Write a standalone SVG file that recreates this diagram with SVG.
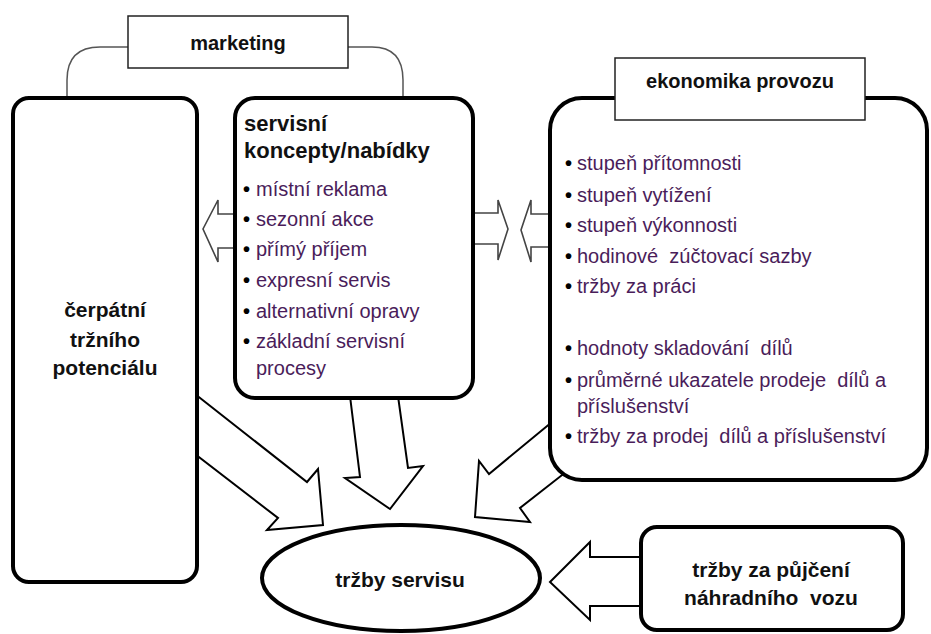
<svg xmlns="http://www.w3.org/2000/svg" width="931" height="634" viewBox="0 0 931 634">
  <style>
    .thick { fill: #fff; stroke: #000; stroke-width: 4; }
    .thin { fill: #fff; stroke: #222; stroke-width: 1.5; }
    .link { fill: none; stroke: #555; stroke-width: 1.5; }
    .blk { fill: #fff; stroke: #000; stroke-width: 2; stroke-linejoin: miter; }
    .blk-light { fill: #fff; stroke: #444; stroke-width: 1.6; stroke-linejoin: miter; }
    .title { font-family: "Liberation Sans", Arial, sans-serif; font-weight: bold; fill: #111; white-space: pre; }
    .c { text-anchor: middle; }
    .item { font-family: "Liberation Sans", Arial, sans-serif; font-size: 20px; fill: #4a1d5a; white-space: pre; }
    .dot { fill: #000; font-weight: bold; }
  </style>

  <!-- connectors: marketing brackets and block arrows -->
  <g id="connectors">
    <path class="link" d="M128,47 H100 Q67,47 67,80 V97"/>
    <path class="link" d="M348,47 H372 Q403,47 403,80 V97"/>

    <!-- services -> market potential -->
    <polygon class="blk-light" points="236,214 218,214 218,200 203,229 218,262 218,248 236,248"/>
    <!-- services -> operations -->
    <polygon class="blk-light" points="470,213 498,213 498,200 508,229 498,260 498,244 470,244"/>
    <!-- operations -> services -->
    <polygon class="blk-light" points="552,214 531,214 531,200 521,230 531,262 531,247 552,247"/>

    <!-- towards service revenue -->
    <polygon class="blk" points="350,396 398,396 408,468 423,466 390,509 345,478 360,477"/>
    <polygon class="blk" points="195,394 307,482 318,469 323,525 267,530 278,518 195,454"/>
    <polygon class="blk" points="552,422 489,474 479,461 475,517 530,522 520,508 566,472"/>
    <polygon class="blk" points="643,557 590,557 590,542 550,582 590,620 590,606 643,606"/>
  </g>

  <g id="cerpani">
    <rect class="thick" x="13" y="98" width="184" height="484" rx="16"/>
    <text class="title c" font-size="21" x="105" y="317">čerpátní</text>
    <text class="title c" font-size="21" x="105" y="347">tržního</text>
    <text class="title c" font-size="21" x="105" y="375">potenciálu</text>
  </g>

  <g id="servisni-koncepty">
    <rect class="thick" x="235" y="98" width="238" height="300" rx="20"/>
    <text class="title" font-size="22" x="244" y="131">servisní</text>
    <text class="title" font-size="22" x="244" y="158">koncepty/nabídky</text>
    <text class="item" y="196"><tspan class="dot" x="243">•</tspan><tspan x="256">místní reklama</tspan></text>
    <text class="item" y="226"><tspan class="dot" x="243">•</tspan><tspan x="256">sezonní akce</tspan></text>
    <text class="item" y="256"><tspan class="dot" x="243">•</tspan><tspan x="256">přímý příjem</tspan></text>
    <text class="item" y="287"><tspan class="dot" x="243">•</tspan><tspan x="256">expresní servis</tspan></text>
    <text class="item" y="318"><tspan class="dot" x="243">•</tspan><tspan x="256">alternativní opravy</tspan></text>
    <text class="item" y="348"><tspan class="dot" x="243">•</tspan><tspan x="256">základní servisní</tspan></text>
    <text class="item" x="256" y="375">procesy</text>
  </g>

  <g id="ekonomika-provozu">
    <rect class="thick" x="550" y="98" width="377" height="382" rx="32"/>
    <text class="item" y="170"><tspan class="dot" x="565">•</tspan><tspan x="577">stupeň přítomnosti</tspan></text>
    <text class="item" y="202"><tspan class="dot" x="565">•</tspan><tspan x="577">stupeň vytížení</tspan></text>
    <text class="item" y="232"><tspan class="dot" x="565">•</tspan><tspan x="577">stupeň výkonnosti</tspan></text>
    <text class="item" y="263"><tspan class="dot" x="565">•</tspan><tspan x="577">hodinové  zúčtovací sazby</tspan></text>
    <text class="item" y="293"><tspan class="dot" x="565">•</tspan><tspan x="577">tržby za práci</tspan></text>
    <text class="item" y="355"><tspan class="dot" x="565">•</tspan><tspan x="577">hodnoty skladování  dílů</tspan></text>
    <text class="item" y="387"><tspan class="dot" x="565">•</tspan><tspan x="577">průměrné ukazatele prodeje  dílů a</tspan></text>
    <text class="item" x="577" y="413">příslušenství</text>
    <text class="item" y="443"><tspan class="dot" x="565">•</tspan><tspan x="577">tržby za prodej  dílů a příslušenství</tspan></text>
  </g>

  <g id="marketing">
    <rect class="thin" x="128" y="16" width="220" height="52"/>
    <text class="title c" font-size="20" x="238" y="50">marketing</text>
  </g>

  <g id="ekonomika-label">
    <rect class="thin" x="615" y="58" width="250" height="62"/>
    <text class="title c" font-size="20" x="740" y="88">ekonomika provozu</text>
  </g>

  <g id="trzby-servisu">
    <ellipse class="thick" cx="401" cy="578" rx="139" ry="53"/>
    <text class="title c" font-size="21" x="400" y="587">tržby servisu</text>
  </g>

  <g id="trzby-pujceni">
    <rect class="thick" x="641" y="527" width="262" height="103" rx="16"/>
    <text class="title c" font-size="21" x="771" y="577">tržby za půjčení</text>
    <text class="title c" font-size="21" x="771" y="605">náhradního  vozu</text>
  </g>
</svg>
